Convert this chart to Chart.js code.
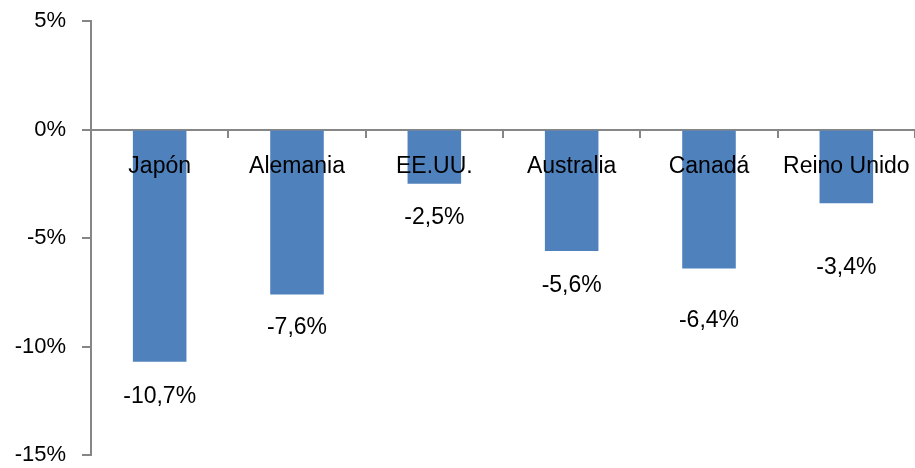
<!DOCTYPE html>
<html>
<head>
<meta charset="utf-8">
<script src="https://cdn.jsdelivr.net/npm/chart.js@4/dist/chart.umd.min.js"></script>
<style>
  html, body { margin: 0; padding: 0; background: #fff; }
  #wrap { width: 915px; height: 468px; }
</style>
</head>
<body>
<div id="wrap"><canvas id="chart"></canvas></div>
<script>
// datos
const paises = ['Japón', 'Alemania', 'EE.UU.', 'Australia', 'Canadá', 'Reino Unido'];
const variacion = [-10.7, -7.6, -2.5, -5.6, -6.4, -3.4];
const ticksY = [5, 0, -5, -10, -15];

// distancia de cada etiqueta bajo el extremo de la barra (px)
const desplazamiento = [35, 33, 34, 35, 52, 64];

const FONT = '"Liberation Sans", Arial, sans-serif';

// nombres de país (encima de las barras) y etiquetas de valor
const etiquetas = {
  id: 'etiquetas',
  afterDatasetsDraw(chart) {
    const ctx = chart.ctx;
    const meta = chart.getDatasetMeta(0);
    const y0 = chart.scales.y.getPixelForValue(0);
    ctx.save();
    ctx.font = '23px ' + FONT;
    ctx.fillStyle = '#000';
    ctx.textAlign = 'center';
    ctx.textBaseline = 'middle';
    meta.data.forEach((bar, i) => {
      ctx.fillText(paises[i], bar.x, y0 + 37);
      const txt = variacion[i].toFixed(1).replace('.', ',') + '%';
      ctx.fillText(txt, bar.x, bar.y + desplazamiento[i]);
    });
    ctx.restore();
  }
};

new Chart(document.getElementById('chart'), {
  type: 'bar',
  data: {
    labels: paises,
    datasets: [{
      data: variacion,
      backgroundColor: '#4F81BD',
      barPercentage: 0.39,
      categoryPercentage: 1
    }]
  },
  options: {
    responsive: true,
    maintainAspectRatio: false,
    animation: false,
    layout: { padding: 0 },
    plugins: { legend: { display: false }, tooltip: { enabled: false } },
    scales: {
      x: {
        position: { y: 0 },
        offset: true,
        grid: {
          offset: true,
          drawOnChartArea: false,
          drawTicks: true,
          tickLength: 7,
          color: '#868686',
          lineWidth: 2
        },
        border: { color: '#868686', width: 2 },
        ticks: { display: false }
      },
      y: {
        min: -15,
        max: 5,
        afterBuildTicks: s => { s.ticks = ticksY.map(v => ({ value: v })); },
        afterFit: s => {
          s.width = 91;
          s.paddingTop = 21;
          s.paddingBottom = 13;
        },
        grid: {
          drawOnChartArea: false,
          drawTicks: true,
          tickLength: 9,
          color: '#868686',
          lineWidth: 2
        },
        border: { color: '#868686', width: 2 },
        ticks: {
          color: '#000',
          font: { size: 22, family: FONT },
          padding: 16,
          callback: v => v + '%'
        }
      }
    }
  },
  plugins: [etiquetas]
});
</script>
</body>
</html>
